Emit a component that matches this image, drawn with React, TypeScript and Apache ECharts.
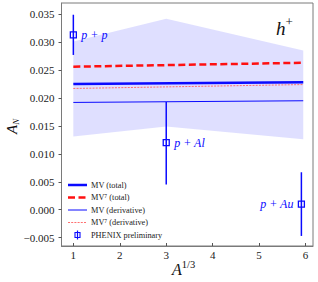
import React, { useEffect, useRef } from "react";
import * as echarts from "echarts";

// ---- data ----
const xTicks = [1, 2, 3, 4, 5, 6];
const yTicks = [-0.005, 0, 0.005, 0.01, 0.015, 0.02, 0.025, 0.03, 0.035];

const bandX = [1, 3, 5.95];
const bandLow = [0.0131, 0.0149, 0.0126];
const bandHigh = [0.0301, 0.0342, 0.0285];

const lineX = [1, 5.95];
const mvTotal = [0.0225, 0.0228];
const mv7Total = [0.0256, 0.0263];
const mvDeriv = [0.0192, 0.0195];
const mv7Deriv = [0.0217, 0.0224];

const dataNames = ["p + p", "p + Al", "p + Au"];
const dataX = [1, 3, 5.91];
const dataY = [0.0313, 0.012, 0.001];
const dataHi = [0.0349, 0.0193, 0.0067];
const dataLo = [0.0277, 0.0045, -0.0047];

const legendNames = ["MV (total)", "MV\u2077 (total)", "MV (derivative)", "MV\u2077 (derivative)", "PHENIX preliminary"];

// ---- styles ----
const BLUE = "#0a0aff";
const RED = "#ff1010";
const PINK = "#ff7070";
const SERIF = "Liberation Serif";
const labelSide = ["right", "right", "left"];

const lineStyles = [
  { stroke: BLUE, lineWidth: 2.5 },
  { stroke: RED, lineWidth: 2.5, lineDash: [7, 3.5] },
  { stroke: BLUE, lineWidth: 1 },
  { stroke: PINK, lineWidth: 1, lineDash: [2, 1.2] },
];

export default function App() {
  const ref = useRef<HTMLDivElement>(null);
  useEffect(() => {
    document.body.style.margin = "0";
    const chart = echarts.init(ref.current!, null, { renderer: "svg" });
    const pair = (xs: number[], ys: number[]) => xs.map((x, i) => [x, ys[i]]);

    // legend drawn manually
    const lx0 = 68, lx1 = 87, ltx = 91, ly0 = 185, ldy = 12.5;
    const legendGraphics: any[] = [];
    legendNames.forEach((name, i) => {
      const y = ly0 + i * ldy;
      if (i < 4) {
        legendGraphics.push({ type: "line", shape: { x1: lx0, y1: y, x2: lx1, y2: y }, style: lineStyles[i] });
      } else {
        const cx = (lx0 + lx1) / 2;
        legendGraphics.push({ type: "line", shape: { x1: cx, y1: y - 4.5, x2: cx, y2: y + 4.5 }, style: { stroke: BLUE, lineWidth: 1.2 } });
        legendGraphics.push({ type: "rect", shape: { x: cx - 2.5, y: y - 2.5, width: 5, height: 5 }, style: { fill: "transparent", stroke: BLUE, lineWidth: 1.1 } });
      }
      legendGraphics.push({
        type: "text",
        x: ltx,
        y,
        style: { text: name, font: `8.3px '${SERIF}'`, fill: "#222", verticalAlign: "middle", align: "left" },
      });
    });

    const option: any = {
      animation: false,
      grid: {
        left: 61.5,
        right: 5,
        top: 3,
        bottom: 36,
        show: true,
        borderColor: "#7a7a7a",
        borderWidth: 1,
        backgroundColor: "transparent",
      },
      xAxis: {
        type: "value",
        min: 0.745,
        max: 6.16,
        axisLine: { show: true, onZero: false, lineStyle: { color: "#7a7a7a" } },
        axisTick: { show: true, inside: true, length: 3, customValues: xTicks, lineStyle: { color: "#555" } },
        axisLabel: {
          customValues: xTicks,
          margin: 3,
          fontFamily: SERIF,
          fontSize: 11,
          color: "#222",
        },
        splitLine: { show: false },
      },
      yAxis: {
        type: "value",
        min: -0.0065,
        max: 0.037,
        axisLine: { show: true, onZero: false, lineStyle: { color: "#7a7a7a" } },
        axisTick: { show: true, inside: false, length: 3, customValues: yTicks, lineStyle: { color: "#555" } },
        axisLabel: {
          customValues: yTicks,
          margin: 7,
          fontFamily: SERIF,
          fontSize: 11,
          color: "#222",
          formatter: (v: number) => (v < 0 ? "\u2212" : "") + Math.abs(v).toFixed(3),
        },
        splitLine: { show: false },
      },
      series: [
        {
          type: "custom",
          name: "band",
          silent: true,
          data: [0],
          renderItem: (params: any, api: any) => {
            const pts: number[][] = [];
            bandX.forEach((x, i) => pts.push(api.coord([x, bandHigh[i]])));
            for (let i = bandX.length - 1; i >= 0; i--) pts.push(api.coord([bandX[i], bandLow[i]]));
            return { type: "polygon", shape: { points: pts }, style: { fill: "rgba(40,40,255,0.15)", stroke: "none" } };
          },
          z: 1,
        },
        {
          type: "line",
          name: legendNames[0],
          data: pair(lineX, mvTotal),
          symbol: "none",
          lineStyle: { color: BLUE, width: 2.5 },
          z: 4,
        },
        {
          type: "line",
          name: legendNames[1],
          data: pair(lineX, mv7Total),
          symbol: "none",
          lineStyle: { color: RED, width: 2.5, type: [7, 3.5] },
          z: 4,
        },
        {
          type: "line",
          name: legendNames[2],
          data: pair(lineX, mvDeriv),
          symbol: "none",
          lineStyle: { color: BLUE, width: 1 },
          z: 3,
        },
        {
          type: "line",
          name: legendNames[3],
          data: pair(lineX, mv7Deriv),
          symbol: "none",
          lineStyle: { color: PINK, width: 1, type: [2, 1.2] },
          z: 3,
        },
        {
          type: "custom",
          name: legendNames[4],
          data: dataX.map((x, i) => [x, dataY[i], dataLo[i], dataHi[i]]),
          renderItem: (params: any, api: any) => {
            const i = params.dataIndex;
            const x = api.value(0);
            const c = api.coord([x, api.value(1)]);
            const lo = api.coord([x, api.value(2)]);
            const hi = api.coord([x, api.value(3)]);
            const s = 6;
            const side = labelSide[i];
            return {
              type: "group",
              children: [
                { type: "line", shape: { x1: c[0], y1: lo[1], x2: c[0], y2: hi[1] }, style: { stroke: BLUE, lineWidth: 1.5 } },
                {
                  type: "rect",
                  shape: { x: c[0] - s / 2, y: c[1] - s / 2, width: s, height: s },
                  style: { fill: "transparent", stroke: BLUE, lineWidth: 1.3 },
                },
                {
                  type: "text",
                  x: side === "right" ? c[0] + 8 : c[0] - 8,
                  y: c[1],
                  style: {
                    text: dataNames[i],
                    fill: BLUE,
                    font: `italic 12px '${SERIF}'`,
                    align: side === "right" ? "left" : "right",
                    verticalAlign: "middle",
                  },
                },
              ],
            };
          },
          z: 6,
        },
      ],
      graphic: [
        ...legendGraphics,
        {
          type: "text",
          left: 276,
          top: 15,
          style: {
            text: "{a|h}{b|+}",
            rich: {
              a: { fontFamily: SERIF, fontStyle: "italic", fontSize: 19, fill: "#111", verticalAlign: "bottom" },
              b: { fontFamily: SERIF, fontSize: 13, fill: "#111", verticalAlign: "top", padding: [0, 0, 10, 0] },
            },
          },
        },
        {
          type: "text",
          x: 3,
          y: 134,
          rotation: Math.PI / 2,
          style: {
            text: "{a|A}{b|N}",
            rich: {
              a: { fontFamily: SERIF, fontStyle: "italic", fontSize: 15, fill: "#111" },
              b: { fontFamily: SERIF, fontStyle: "italic", fontSize: 9, fill: "#111", padding: [8, 0, 0, 0] },
            },
          },
        },
        {
          type: "text",
          left: 172,
          top: 259,
          style: {
            text: "{a|A}{b|1/3}",
            rich: {
              a: { fontFamily: SERIF, fontStyle: "italic", fontSize: 16, fill: "#111" },
              b: { fontFamily: SERIF, fontSize: 10.5, fill: "#111", padding: [0, 0, 9, 0] },
            },
          },
        },
      ],
    };
    chart.setOption(option);
    return () => chart.dispose();
  }, []);
  return <div ref={ref} style={{ position: "absolute", left: 0, top: 0, width: 318, height: 282 }} />;
}
